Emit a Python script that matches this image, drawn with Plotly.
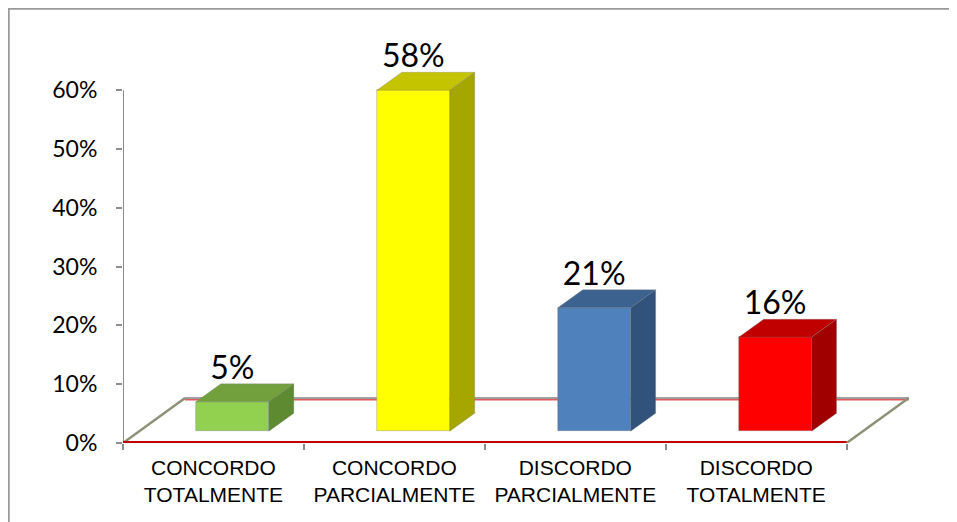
import plotly.graph_objects as go

# ---------------- data ----------------
categories = ["CONCORDO<br>TOTALMENTE", "CONCORDO<br>PARCIALMENTE",
              "DISCORDO<br>PARCIALMENTE", "DISCORDO<br>TOTALMENTE"]
values = [5, 58, 21, 16]
value_labels = ["5%", "58%", "21%", "16%"]
y_ticks = [0, 10, 20, 30, 40, 50, 60]
y_tick_labels = ["0%", "10%", "20%", "30%", "40%", "50%", "60%"]

front_colors = ["#92D050", "#FFFF00", "#4F81BD", "#FF0000"]
top_colors = ["#71A03C", "#C4C400", "#3C6290", "#C00000"]
side_colors = ["#5E8A31", "#A6A600", "#31527B", "#A00000"]

# ------------- pseudo-3D geometry (style constants) -------------
# page body has an 8px margin, so the figure is drawn 8px smaller/shifted
W, H = 949, 514
ML, MR, MT, MB = 115, 47, 47, 79
X_RANGE = [-0.5, 3.85]
Y_RANGE = [0, 66]
BAR_OFFSET = -0.097   # front face left edge relative to category centre
BAR_WIDTH = 0.403
BASE = 2.0            # front face lifted by depth position
DX, DY = 0.138, 3.06  # bar depth projection
FDX, FDY = 0.343, 7.65  # floor depth projection

xs = list(range(len(categories)))

fig = go.Figure()

# front faces
fig.add_trace(go.Bar(
    x=xs, y=values, base=[BASE] * len(values),
    width=BAR_WIDTH, offset=BAR_OFFSET,
    marker=dict(color=front_colors, line=dict(color="rgba(120,120,120,0.6)", width=0.6)),
    hoverinfo="skip", showlegend=False,
))

# top and side faces
for i, v in enumerate(values):
    xl = xs[i] + BAR_OFFSET
    xr = xl + BAR_WIDTH
    yt = v + BASE
    fig.add_trace(go.Scatter(
        x=[xl, xr, xr + DX, xl + DX, xl], y=[yt, yt, yt + DY, yt + DY, yt],
        fill="toself", fillcolor=top_colors[i], mode="lines",
        line=dict(color="rgba(120,120,120,0.5)", width=0.6),
        hoverinfo="skip", showlegend=False))
    fig.add_trace(go.Scatter(
        x=[xr, xr + DX, xr + DX, xr, xr], y=[BASE, BASE + DY, yt + DY, yt, BASE],
        fill="toself", fillcolor=side_colors[i], mode="lines",
        line=dict(color="rgba(120,120,120,0.5)", width=0.6),
        hoverinfo="skip", showlegend=False))

# data labels
fig.add_trace(go.Scatter(
    x=[x + BAR_OFFSET + BAR_WIDTH / 2 for x in xs],
    y=[v + BASE + DY + 2.25 for v in values],
    mode="text", text=value_labels, textposition="middle center",
    textfont=dict(family="Lato", size=32, color="#000000"),
    hoverinfo="skip", showlegend=False, cliponaxis=False))

# floor and axis decoration (below traces)
x0, x1 = -0.5, 3.5
shapes = [
    dict(type="path", xref="x", yref="y", layer="below",
         path=f"M {x0},0 L {x1},0 L {x1+FDX},{FDY} L {x0+FDX},{FDY} Z",
         fillcolor="white", line=dict(width=0)),
    # back edge: red under grey
    dict(type="line", xref="x", yref="y", layer="below",
         x0=x0 + FDX, y0=FDY - 0.3, x1=x1 + FDX, y1=FDY - 0.3,
         line=dict(color="#E05A5A", width=1.5)),
    dict(type="line", xref="x", yref="y", layer="below",
         x0=x0 + FDX, y0=FDY, x1=x1 + FDX, y1=FDY,
         line=dict(color="#A0A0A0", width=2)),
    # slanted edges
    dict(type="line", xref="x", yref="y", layer="below",
         x0=x0, y0=0, x1=x0 + FDX, y1=FDY, line=dict(color="#8F9078", width=2.5)),
    dict(type="line", xref="x", yref="y", layer="below",
         x0=x1, y0=0, x1=x1 + FDX, y1=FDY, line=dict(color="#8F9078", width=2.5)),
    # y axis line
    dict(type="line", xref="x", yref="y", layer="below",
         x0=x0, y0=0, x1=x0, y1=60, line=dict(color="#8C8C8C", width=2)),
    # front edge (grey under red)
    dict(type="line", xref="x", yref="y", layer="below",
         x0=x0, y0=-0.25, x1=x1, y1=-0.25, line=dict(color="#8C8C8C", width=2)),
    dict(type="line", xref="x", yref="y", layer="below",
         x0=x0, y0=0.1, x1=x1, y1=0.1, line=dict(color="#C00000", width=3)),
]

# outer frame
pw = W - ML - MR
ph = H - MT - MB
def px_x(p):
    return (p - ML) / pw
def px_y(p):
    return (H - MB - p) / ph
shapes.append(dict(type="rect", xref="paper", yref="paper",
                   x0=px_x(0.5), y0=px_y(540), x1=px_x(980), y1=px_y(0.5),
                   line=dict(color="#9A9A9A", width=2.5), fillcolor="rgba(0,0,0,0)",
                   layer="below"))

fig.update_layout(
    width=W, height=H,
    margin=dict(l=ML, r=MR, t=MT, b=MB, autoexpand=False),
    paper_bgcolor="white", plot_bgcolor="white",
    shapes=shapes, showlegend=False, bargap=0,
    xaxis=dict(range=X_RANGE, showgrid=False, zeroline=False, showline=False,
               tickmode="array", tickvals=xs, ticktext=categories,
               ticks="", ticklen=6, automargin=False, ticklabelstandoff=10,
               tickfont=dict(family="Liberation Sans", size=21, color="#000000"),
               minor=dict(tickmode="array", tickvals=[-0.5, 0.5, 1.5, 2.5, 3.5],
                          ticks="outside", ticklen=6, tickwidth=2, tickcolor="#8C8C8C",
                          showgrid=False),
               fixedrange=True),
    yaxis=dict(range=Y_RANGE, showgrid=False, zeroline=False, showline=False,
               tickmode="array", tickvals=y_ticks, ticktext=y_tick_labels,
               ticks="outside", ticklen=6, tickwidth=2, tickcolor="#8C8C8C",
               ticklabelstandoff=14, automargin=False,
               tickfont=dict(family="Lato", size=23, color="#000000"),
               fixedrange=True),
)

fig.write_html("out.html")
